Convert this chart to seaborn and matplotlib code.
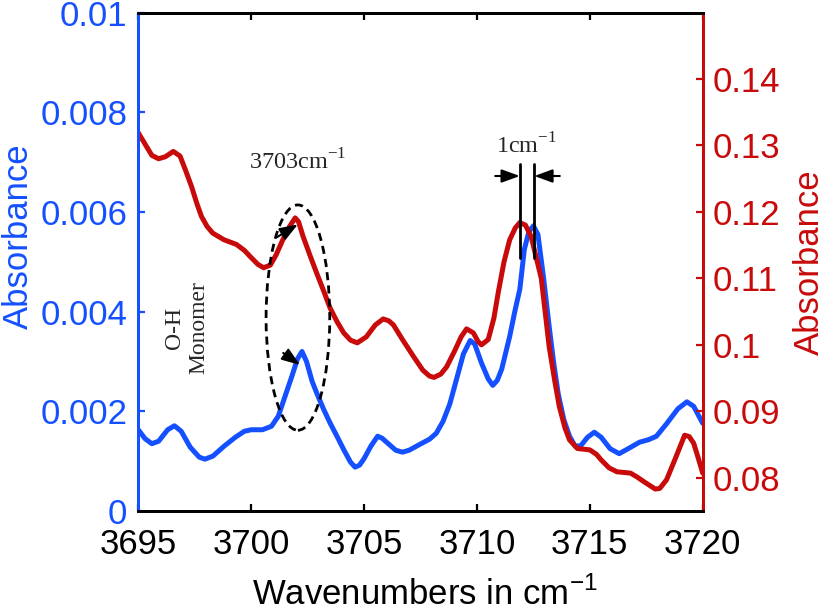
import matplotlib
matplotlib.use("Agg")
import matplotlib.pyplot as plt
import seaborn as sns
import pandas as pd
from matplotlib.patches import Ellipse

# ---------------- data ----------------
wavenumber_blue = [3695.0, 3695.3, 3695.6, 3695.9, 3696.3, 3696.6, 3696.9, 3697.3, 3697.7, 3697.95,
                   3698.3, 3698.8, 3699.3, 3699.7, 3700.0, 3700.5, 3700.9, 3701.2, 3701.5, 3701.8,
                   3702.05, 3702.25, 3702.45, 3702.7, 3702.9, 3703.2, 3703.5, 3703.8, 3704.1, 3704.4,
                   3704.6, 3704.8, 3705.0, 3705.3, 3705.6, 3705.8, 3706.1, 3706.4, 3706.7, 3707.0,
                   3707.4, 3707.9, 3708.2, 3708.5, 3708.8, 3709.1, 3709.4, 3709.7, 3709.9, 3710.2,
                   3710.5, 3710.7, 3710.9, 3711.1, 3711.45, 3711.7, 3711.9, 3712.1, 3712.3, 3712.5,
                   3712.7, 3712.95, 3713.2, 3713.4, 3713.6, 3713.85, 3714.1, 3714.35, 3714.6, 3714.9,
                   3715.2, 3715.5, 3715.9, 3716.3, 3716.7, 3717.2, 3717.6, 3717.95, 3718.4, 3718.9,
                   3719.3, 3719.6, 3720.0]
absorbance_blue = [0.00163, 0.00145, 0.00135, 0.00140, 0.00163, 0.00171, 0.00160, 0.00128, 0.00108, 0.00104,
                   0.00110, 0.00130, 0.00148, 0.00160, 0.00163, 0.00163, 0.00170, 0.00190, 0.00230, 0.00270,
                   0.00305, 0.00320, 0.00300, 0.00260, 0.00237, 0.00205, 0.00176, 0.00150, 0.00123, 0.00098,
                   0.00088, 0.00092, 0.00105, 0.00130, 0.00150, 0.00146, 0.00134, 0.00122, 0.00118, 0.00122,
                   0.00132, 0.00144, 0.00156, 0.00180, 0.00215, 0.00265, 0.00315, 0.00342, 0.00335, 0.00297,
                   0.00265, 0.00252, 0.00262, 0.00285, 0.00350, 0.00405, 0.00445, 0.00525, 0.00560, 0.00572,
                   0.00555, 0.00468, 0.00370, 0.00297, 0.00235, 0.00183, 0.00150, 0.00130, 0.00131, 0.00148,
                   0.00158, 0.00148, 0.00125, 0.00115, 0.00125, 0.00138, 0.00143, 0.00150, 0.00175, 0.00205,
                   0.00219, 0.00210, 0.00176]

wavenumber_red = [3695.0, 3695.3, 3695.6, 3695.9, 3696.2, 3696.55, 3696.85, 3697.1, 3697.36, 3697.6,
                  3697.8, 3698.05, 3698.3, 3698.8, 3699.35, 3699.7, 3699.95, 3700.3, 3700.55, 3700.85,
                  3701.1, 3701.4, 3701.7, 3701.95, 3702.1, 3702.3, 3702.6, 3702.9, 3703.2, 3703.5,
                  3703.8, 3704.1, 3704.4, 3704.7, 3705.1, 3705.5, 3705.85, 3706.1, 3706.3, 3706.7,
                  3707.2, 3707.6, 3707.9, 3708.1, 3708.4, 3708.66, 3709.0, 3709.3, 3709.54, 3709.84,
                  3710.05, 3710.2, 3710.5, 3710.75, 3710.95, 3711.2, 3711.45, 3711.7, 3711.9, 3712.15,
                  3712.4, 3712.6, 3712.85, 3713.2, 3713.45, 3713.65, 3713.9, 3714.1, 3714.45, 3715.0,
                  3715.3, 3715.5, 3715.85, 3716.2, 3716.8, 3717.1, 3717.4, 3717.9, 3718.1, 3718.4,
                  3718.8, 3719.2, 3719.4, 3719.6, 3719.8, 3720.0]
absorbance_red = [0.1319, 0.1302, 0.1285, 0.1280, 0.1283, 0.1291, 0.1284, 0.1262, 0.1238, 0.1212,
                  0.1193, 0.1178, 0.1168, 0.1158, 0.1151, 0.1142, 0.1133, 0.1121, 0.1116, 0.1120,
                  0.1135, 0.1158, 0.1178, 0.1191, 0.1185, 0.1163, 0.1135, 0.1108, 0.1082, 0.1055,
                  0.1035, 0.1018, 0.1007, 0.1003, 0.1012, 0.1030, 0.1039, 0.1036, 0.1030, 0.1008,
                  0.0982, 0.0962, 0.0953, 0.0951, 0.0956, 0.0967, 0.0990, 0.1012, 0.1024, 0.1018,
                  0.1005, 0.1000, 0.1008, 0.1040, 0.1080, 0.1125, 0.1158, 0.1176, 0.1184, 0.1180,
                  0.1163, 0.1135, 0.1100, 0.0997, 0.0945, 0.0907, 0.0875, 0.0857, 0.0844, 0.0842,
                  0.0835, 0.0827, 0.0815, 0.0809, 0.0807, 0.0801, 0.0794, 0.0783, 0.0784, 0.0797,
                  0.0830, 0.0864, 0.0862, 0.0852, 0.0830, 0.0807]

x_ticks = [3695, 3700, 3705, 3710, 3715, 3720]
left_ticks = [0, 0.002, 0.004, 0.006, 0.008, 0.01]
left_tick_labels = ["0", "0.002", "0.004", "0.006", "0.008", "0.01"]
right_ticks = [0.08, 0.09, 0.10, 0.11, 0.12, 0.13, 0.14]
right_tick_labels = ["0.08", "0.09", "0.1", "0.11", "0.12", "0.13", "0.14"]

BLUE = "#1450FF"
RED = "#C80A0A"

sns.set_style("white")
plt.rcParams["font.family"] = ["Liberation Sans", "DejaVu Sans"]
plt.rcParams["mathtext.fontset"] = "custom"
plt.rcParams["mathtext.rm"] = "Liberation Sans"

W, H = 825, 612
fig = plt.figure(figsize=(W / 100, H / 100), dpi=100)
L, R, T, B = 138.3, 702.7, 12.5, 511.0
ax = fig.add_axes([L / W, 1 - B / H, (R - L) / W, (B - T) / H])
ax2 = ax.twinx()

df_b = pd.DataFrame({"x": wavenumber_blue, "y": absorbance_blue})
df_r = pd.DataFrame({"x": wavenumber_red, "y": absorbance_red})
sns.lineplot(data=df_b, x="x", y="y", ax=ax, color=BLUE, lw=3.6, sort=False)
sns.lineplot(data=df_r, x="x", y="y", ax=ax2, color=RED, lw=3.6, sort=False)

ax.set_xlim(3695, 3720)
ax.set_ylim(0, 0.01)
ax2.set_ylim(0.075, 0.150)

ax.set_xticks(x_ticks)
ax.set_xticklabels([str(t) for t in x_ticks])
ax.set_yticks(left_ticks)
ax.set_yticklabels(left_tick_labels)
ax2.set_yticks(right_ticks)
ax2.set_yticklabels(right_tick_labels)

fs = 25
ax.tick_params(axis="x", direction="in", top=True, bottom=True, length=5, width=1.6,
               labelsize=fs, pad=12, colors="black")
ax.tick_params(axis="y", direction="in", left=True, right=False, length=5, width=1.6,
               labelsize=fs, pad=8, colors=BLUE)
ax2.tick_params(axis="y", direction="in", right=True, left=False, length=5, width=1.6,
                labelsize=fs, pad=7.5, colors=RED)

for a in (ax, ax2):
    for s in ("top", "bottom"):
        a.spines[s].set_color("black")
        a.spines[s].set_linewidth(2.0)
    a.spines["left"].set_color(BLUE)
    a.spines["right"].set_color(RED)
    a.spines["left"].set_linewidth(2.0)
    a.spines["right"].set_linewidth(2.0)
    a.grid(False)

ax.set_xlabel("Wavenumbers in cm$^{\\mathregular{-1}}$", fontsize=fs, color="black")
ax.xaxis.set_label_coords(0.507, -0.132)
ax.set_ylabel("Absorbance", fontsize=fs, color=BLUE)
ax.yaxis.set_label_coords(-0.184, 0.552)
ax2.set_ylabel("Absorbance", fontsize=fs, color=RED)
ax2.yaxis.set_label_coords(1.16, 0.5)

# ---------------- annotations (drawn on top, in left-axis data coords) ----------------
td = ax.transData
serif = ["Liberation Serif", "DejaVu Serif"]
ax2.add_patch(Ellipse((3702.07, 0.00388), width=2.82, height=0.00452, transform=td,
                      fill=False, edgecolor="black", lw=2.0, linestyle=(0, (2.9, 1.9)), zorder=5))
ax2.text(3702.07, 0.0070, "3703cm$^{\\mathregular{-1}}$", transform=td, family=serif,
         fontsize=17.5, ha="center", va="center", zorder=6)
ax2.text(3712.2, 0.00733, "1cm$^{\\mathregular{-1}}$", transform=td, family=serif,
         fontsize=17.5, ha="center", va="center", zorder=6)
ax2.text(3697.16, 0.00368, "O-H\nMonomer", transform=td, family=serif, fontsize=17,
         rotation=90, ha="center", va="center", multialignment="center", zorder=6)

for xv in (3711.90, 3712.54):
    ax2.plot([xv, xv], [0.00508, 0.00696], color="black", lw=2.0, transform=td, zorder=6)

arrow_style = dict(arrowstyle="-|>,head_length=0.55,head_width=0.2", color="black", lw=1.5,
                   shrinkA=0, shrinkB=0, mutation_scale=20)
ax2.annotate("", xy=(3711.90, 0.00672), xycoords=td, xytext=(3710.81, 0.00672), textcoords=td,
             arrowprops=arrow_style, zorder=6)
ax2.annotate("", xy=(3712.54, 0.00672), xycoords=td, xytext=(3713.67, 0.00672), textcoords=td,
             arrowprops=arrow_style, zorder=6)
ax2.annotate("", xy=(3702.16, 0.00293), xycoords=td, xytext=(3701.42, 0.00317), textcoords=td,
             arrowprops=arrow_style, zorder=6)
ax2.annotate("", xy=(3702.07, 0.00575), xycoords=td, xytext=(3701.13, 0.00549), textcoords=td,
             arrowprops=arrow_style, zorder=6)

fig.savefig("out.png", dpi=100)
